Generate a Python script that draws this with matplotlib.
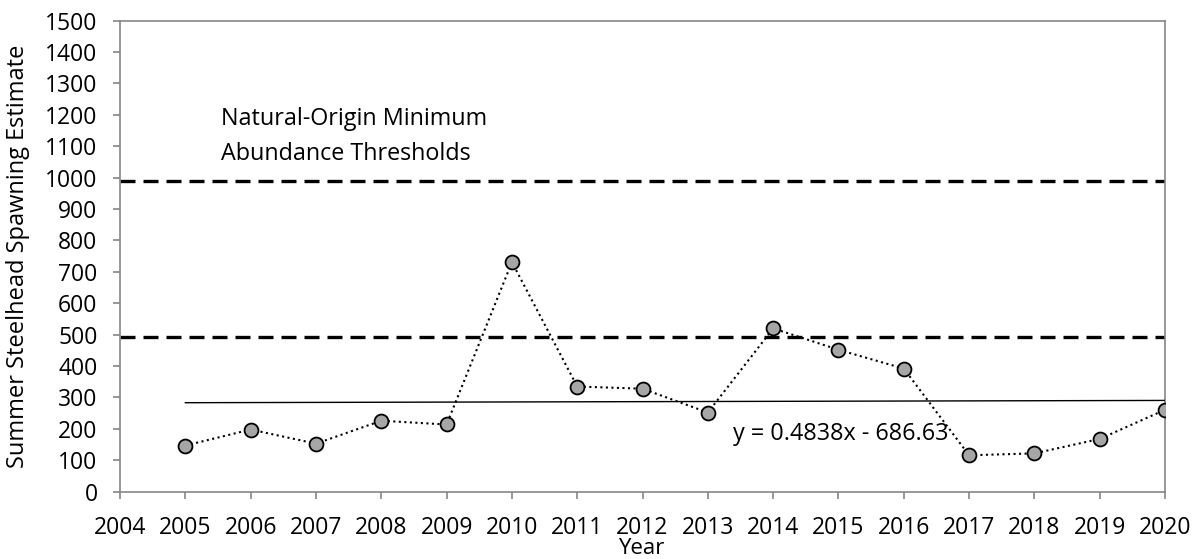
import matplotlib
matplotlib.use("Agg")
import matplotlib.pyplot as plt

years = [2005, 2006, 2007, 2008, 2009, 2010, 2011, 2012,
         2013, 2014, 2015, 2016, 2017, 2018, 2019, 2020]
spawners = [147, 198, 153, 226, 214, 731, 335, 328,
            252, 520, 452, 392, 116, 122, 168, 261]

thresholds = [990, 493]          # natural-origin minimum abundance thresholds
slope, intercept = 0.4838, -686.63  # trend line shown on the chart

plt.rcParams["font.family"] = ["Open Sans", "DejaVu Sans"]
grey = "#868686"

fig = plt.figure(figsize=(11.98, 5.59), dpi=100)
ax = fig.add_axes([0.1002, 0.1204, 0.8723, 0.8426])

for t in thresholds:
    ax.plot([2004, 2020], [t, t], color="black", lw=2.4,
            dashes=(4.5, 2.4), zorder=2)

trend_x = [years[0], years[-1]]
ax.plot(trend_x, [slope * x + intercept for x in trend_x],
        color="black", lw=1.0, zorder=3)

ax.plot(years, spawners, color="black", ls=":", lw=1.5,
        marker="o", ms=10, mfc="#A6A6A6", mec="black", mew=1.3, zorder=4)

ax.set_xlim(2004, 2020)
ax.set_ylim(0, 1500)
ax.set_xticks(range(2004, 2021))
ax.set_yticks(range(0, 1501, 100))

for s in ax.spines.values():
    s.set_color(grey)
    s.set_linewidth(1.2)
ax.tick_params(axis="both", colors=grey, labelcolor="black", labelsize=16.5,
               length=5.2, width=1.2)
ax.tick_params(axis="x", pad=12)
ax.tick_params(axis="y", pad=11)

ax.set_ylabel("Summer Steelhead Spawning Estimate", fontsize=17)
ax.yaxis.set_label_coords(-0.086, 0.5)
fig.text(0.5355, 1 - 549 / 559, "Year", fontsize=16, ha="center", va="center")

ax.text(2005.55, 1132, "Natural-Origin Minimum\nAbundance Thresholds",
        fontsize=16.8, va="center", ha="left", linespacing=1.6)
ax.text(2013.39, 184, "y = 0.4838x - 686.63", fontsize=16.8,
        va="center", ha="left")

fig.savefig("out.png", dpi=100)
